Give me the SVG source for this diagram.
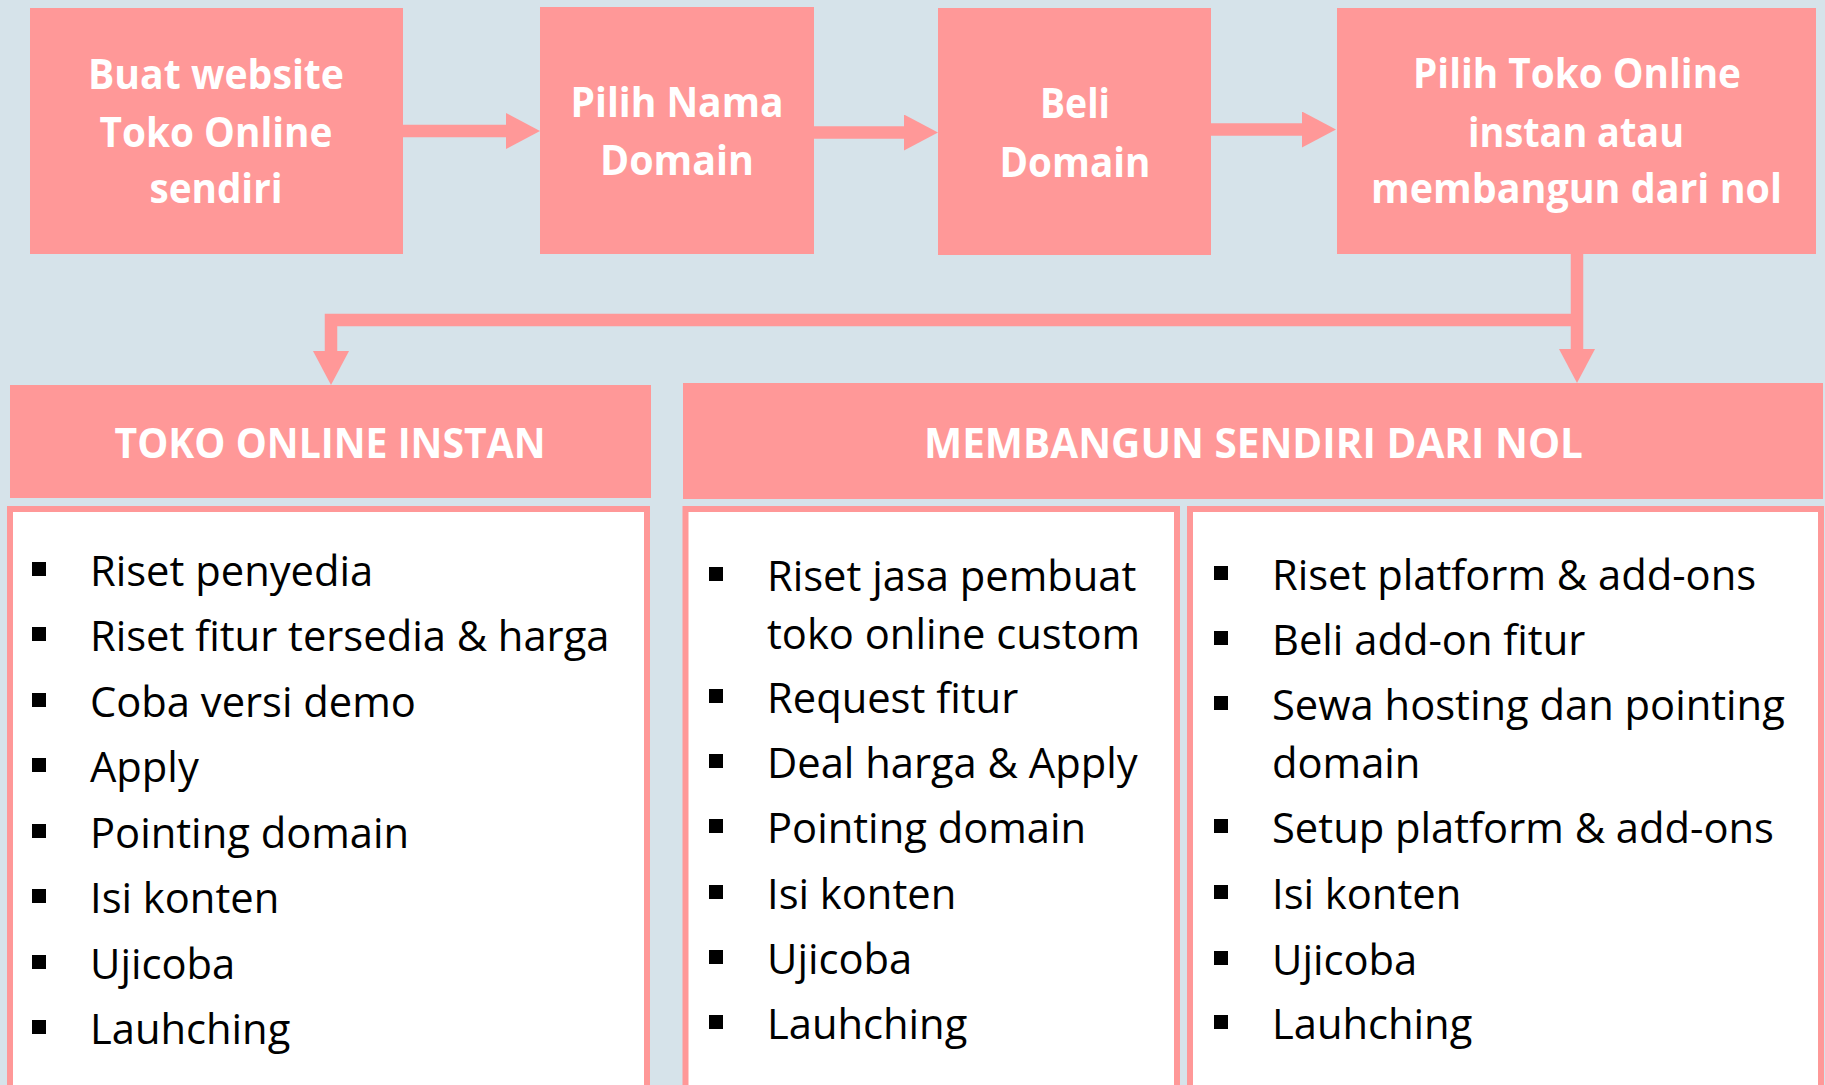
<svg xmlns="http://www.w3.org/2000/svg" width="1825" height="1085" viewBox="0 0 1825 1085">
<style>
.box{fill:#FF9898;}
.panel{fill:#FFFFFF;stroke:#FF9898;stroke-width:6;}
.t{font-family:"Open Sans","Noto Sans",sans-serif;font-weight:700;font-size:42px;fill:#FFFFFF;text-anchor:middle;}
.b{font-family:"Open Sans","Noto Sans",sans-serif;font-size:41.7px;fill:#000000;}
.bl{fill:#000000;}
.c{fill:none;stroke:#FF9898;stroke-width:12.5;stroke-linejoin:miter;}
</style>
<defs>
<marker id="head" markerUnits="userSpaceOnUse" viewBox="0 0 34 36" refX="14" refY="18" markerWidth="34" markerHeight="36" orient="auto">
<path d="M0,0 L34,18 L0,36 Z" fill="#FF9898"/>
</marker>
</defs>
<rect x="0" y="0" width="1825" height="1085" fill="#D6E3EA"/>

<g id="connectors">
<path class="c" d="M403,131 L520,131" marker-end="url(#head)"/>
<path class="c" d="M814,132.5 L918,132.5" marker-end="url(#head)"/>
<path class="c" d="M1211,129.5 L1316,129.5" marker-end="url(#head)"/>
<path class="c" d="M1577,254 L1577,363" marker-end="url(#head)"/>
<path class="c" d="M1577,320 L331,320 L331,365" marker-end="url(#head)"/>
</g>

<g id="node-buat">
<rect class="box" x="30" y="8" width="373" height="246"/>
<text class="t" x="216" y="89" textLength="256" lengthAdjust="spacingAndGlyphs">Buat website</text>
<text class="t" x="216" y="147" textLength="233" lengthAdjust="spacingAndGlyphs">Toko Online</text>
<text class="t" x="216" y="203" textLength="133" lengthAdjust="spacingAndGlyphs">sendiri</text>
</g>

<g id="node-pilih-nama">
<rect class="box" x="540" y="7" width="274" height="247"/>
<text class="t" x="677" y="117" textLength="213" lengthAdjust="spacingAndGlyphs">Pilih Nama</text>
<text class="t" x="677" y="175" textLength="154" lengthAdjust="spacingAndGlyphs">Domain</text>
</g>

<g id="node-beli">
<rect class="box" x="938" y="8" width="273" height="247"/>
<text class="t" x="1075" y="118" textLength="70" lengthAdjust="spacingAndGlyphs">Beli</text>
<text class="t" x="1075" y="177" textLength="151" lengthAdjust="spacingAndGlyphs">Domain</text>
</g>

<g id="node-pilih-toko">
<rect class="box" x="1337" y="8" width="479" height="246"/>
<text class="t" x="1577" y="88" textLength="328" lengthAdjust="spacingAndGlyphs">Pilih Toko Online</text>
<text class="t" x="1576" y="147" textLength="216" lengthAdjust="spacingAndGlyphs">instan atau</text>
<text class="t" x="1576.5" y="203" textLength="411" lengthAdjust="spacingAndGlyphs">membangun dari nol</text>
</g>

<g id="header-instan">
<rect class="box" x="10" y="385" width="641" height="113"/>
<text class="t" x="330" y="458" textLength="431" lengthAdjust="spacingAndGlyphs">TOKO ONLINE INSTAN</text>
</g>

<g id="header-nol">
<rect class="box" x="683" y="383" width="1140" height="116"/>
<text class="t" x="1253.5" y="458" textLength="659" lengthAdjust="spacingAndGlyphs">MEMBANGUN SENDIRI DARI NOL</text>
</g>

<g id="list-instan">
<rect class="panel" x="10" y="509" width="637" height="620"/>
<rect class="bl" x="32" y="562" width="14" height="14"/>
<rect class="bl" x="32" y="627" width="14" height="14"/>
<rect class="bl" x="32" y="693" width="14" height="14"/>
<rect class="bl" x="32" y="758" width="14" height="14"/>
<rect class="bl" x="32" y="824" width="14" height="14"/>
<rect class="bl" x="32" y="889" width="14" height="14"/>
<rect class="bl" x="32" y="955" width="14" height="14"/>
<rect class="bl" x="32" y="1020" width="14" height="14"/>
<text class="b" x="90" y="586">Riset penyedia</text>
<text class="b" x="90" y="651">Riset fitur tersedia &amp; harga</text>
<text class="b" x="90" y="717">Coba versi demo</text>
<text class="b" x="90" y="782">Apply</text>
<text class="b" x="90" y="848">Pointing domain</text>
<text class="b" x="90" y="913">Isi konten</text>
<text class="b" x="90" y="979">Ujicoba</text>
<text class="b" x="90" y="1044">Lauhching</text>
</g>

<g id="list-custom">
<rect class="panel" x="685.5" y="509" width="491.5" height="620"/>
<rect class="bl" x="709" y="567" width="14" height="14"/>
<rect class="bl" x="709" y="689" width="14" height="14"/>
<rect class="bl" x="709" y="754" width="14" height="14"/>
<rect class="bl" x="709" y="819" width="14" height="14"/>
<rect class="bl" x="709" y="885" width="14" height="14"/>
<rect class="bl" x="709" y="950" width="14" height="14"/>
<rect class="bl" x="709" y="1015" width="14" height="14"/>
<text class="b" x="767" y="591">Riset jasa pembuat</text>
<text class="b" x="767" y="649">toko online custom</text>
<text class="b" x="767" y="713">Request fitur</text>
<text class="b" x="767" y="778">Deal harga &amp; Apply</text>
<text class="b" x="767" y="843">Pointing domain</text>
<text class="b" x="767" y="909">Isi konten</text>
<text class="b" x="767" y="974">Ujicoba</text>
<text class="b" x="767" y="1039">Lauhching</text>
</g>

<g id="list-platform">
<rect class="panel" x="1190" y="509" width="631" height="620"/>
<rect class="bl" x="1214" y="566" width="14" height="14"/>
<rect class="bl" x="1214" y="631" width="14" height="14"/>
<rect class="bl" x="1214" y="696" width="14" height="14"/>
<rect class="bl" x="1214" y="819" width="14" height="14"/>
<rect class="bl" x="1214" y="885" width="14" height="14"/>
<rect class="bl" x="1214" y="951" width="14" height="14"/>
<rect class="bl" x="1214" y="1015" width="14" height="14"/>
<text class="b" x="1272" y="590">Riset platform &amp; add-ons</text>
<text class="b" x="1272" y="655">Beli add-on fitur</text>
<text class="b" x="1272" y="720">Sewa hosting dan pointing</text>
<text class="b" x="1272" y="778">domain</text>
<text class="b" x="1272" y="843">Setup platform &amp; add-ons</text>
<text class="b" x="1272" y="909">Isi konten</text>
<text class="b" x="1272" y="975">Ujicoba</text>
<text class="b" x="1272" y="1039">Lauhching</text>
</g>
</svg>
